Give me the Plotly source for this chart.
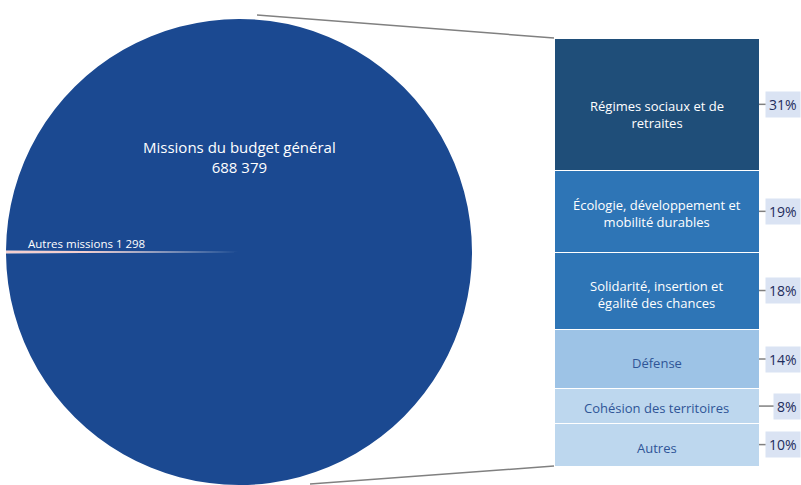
import plotly.graph_objects as go

# Budget split (M€)
pie_labels = ["Autres missions", "Missions du budget général"]
pie_values = [1298, 688379]
pie_colors = ["#f4cfcf", "#1b4991"]

# Breakdown of the general-budget missions (share, %)
bar_labels = [
    "Régimes sociaux et de<br>retraites",
    "Écologie, développement et<br>mobilité durables",
    "Solidarité, insertion et<br>égalité des chances",
    "Défense",
    "Cohésion des territoires",
    "Autres",
]
bar_shares = [31, 19, 18, 14, 8, 10]
bar_colors = ["#1f4e79", "#2e75b6", "#2e75b6", "#9dc3e6", "#bdd7ee", "#bdd7ee"]
bar_text_colors = ["white", "white", "white", "#2f5597", "#2f5597", "#2f5597"]
bar_text_shift = [-10, -2, -4, -4, -2, -3]

W, H = 801, 485
FONT = "Open Sans"

# pie geometry (pixels)
pie_r = 233
pie_cx = 239
pie_cy = H - pie_r  # pie sits on the bottom edge

# bar geometry (pixels)
bar_x0, bar_x1 = 554, 759
bar_y0, bar_y1 = 38, 466

fig = go.Figure()

total = sum(pie_values)
small_span = 360 * pie_values[0] / total
fig.add_trace(go.Pie(
    labels=pie_labels,
    values=pie_values,
    marker=dict(colors=pie_colors, line=dict(width=0)),
    sort=False,
    direction="clockwise",
    rotation=270 - small_span / 2,
    textinfo="none",
    hoverinfo="label+value",
    showlegend=False,
    domain=dict(x=[(pie_cx - pie_r) / W, (pie_cx + pie_r) / W],
                y=[0, 2 * pie_r / H]),
))

for lab, val, col in zip(bar_labels, bar_shares, bar_colors):
    fig.add_trace(go.Bar(
        x=[0], y=[val],
        marker=dict(color=col, line=dict(color="white", width=1)),
        width=1,
        name=lab.replace("<br>", " "),
        hoverinfo="name",
        showlegend=False,
        xaxis="x", yaxis="y",
    ))

annotations = []
shapes = []

# labels on the pie, built from the values
annotations.append(dict(
    x=pie_cx / W, y=1 - 157 / H, xref="paper", yref="paper",
    text=f"{pie_labels[1]}<br>{pie_values[1]:,}".replace(",", " "),
    showarrow=False, font=dict(family=FONT, size=15, color="white"),
    xanchor="center", yanchor="middle",
))
annotations.append(dict(
    x=26 / W, y=1 - (pie_cy - 9) / H, xref="paper", yref="paper",
    text=f"{pie_labels[0]} {pie_values[0]:,}".replace(",", " "),
    showarrow=False, font=dict(family=FONT, size=11.5, color="white"),
    xanchor="left", yanchor="middle",
))

# segment captions and percentage tags with leader lines
cum = 0
for lab, val, tcol, dy in zip(bar_labels, bar_shares, bar_text_colors, bar_text_shift):
    mid = cum + val / 2
    cum += val
    annotations.append(dict(
        x=0, y=mid, xref="x", yref="y", text=lab, showarrow=False,
        xanchor="center", yanchor="middle", yshift=dy,
        font=dict(family=FONT, size=13, color=tcol),
    ))
    shapes.append(dict(
        type="line", xref="paper", yref="y",
        x0=bar_x1 / W, x1=785 / W, y0=mid, y1=mid,
        line=dict(color="#808080", width=1.5),
    ))
    annotations.append(dict(
        x=1.0, y=mid, xref="paper", yref="y",
        text=f"{val}%", showarrow=False,
        xanchor="right", yanchor="middle",
        font=dict(family=FONT, size=14, color="#1f2d5c"),
        bgcolor="#dae3f3", borderpad=3,
    ))

# connector lines from the pie to the bar
shapes.append(dict(type="line", xref="paper", yref="paper",
                   x0=257 / W, y0=1 - 15 / H, x1=bar_x0 / W, y1=1 - bar_y0 / H,
                   line=dict(color="#808080", width=1.5)))
shapes.append(dict(type="line", xref="paper", yref="paper",
                   x0=310 / W, y0=1 - 484 / H, x1=bar_x0 / W, y1=1 - bar_y1 / H,
                   line=dict(color="#808080", width=1.5)))

fig.update_layout(
    width=W, height=H,
    margin=dict(l=0, r=0, t=0, b=0),
    paper_bgcolor="white", plot_bgcolor="white",
    barmode="stack",
    xaxis=dict(domain=[bar_x0 / W, bar_x1 / W], range=[-0.5, 0.5],
               visible=False, fixedrange=True),
    yaxis=dict(domain=[1 - bar_y1 / H, 1 - bar_y0 / H], range=[100, 0],
               visible=False, fixedrange=True),
    annotations=annotations,
    shapes=shapes,
    font=dict(family=FONT),
)

fig.write_html("out.html")
